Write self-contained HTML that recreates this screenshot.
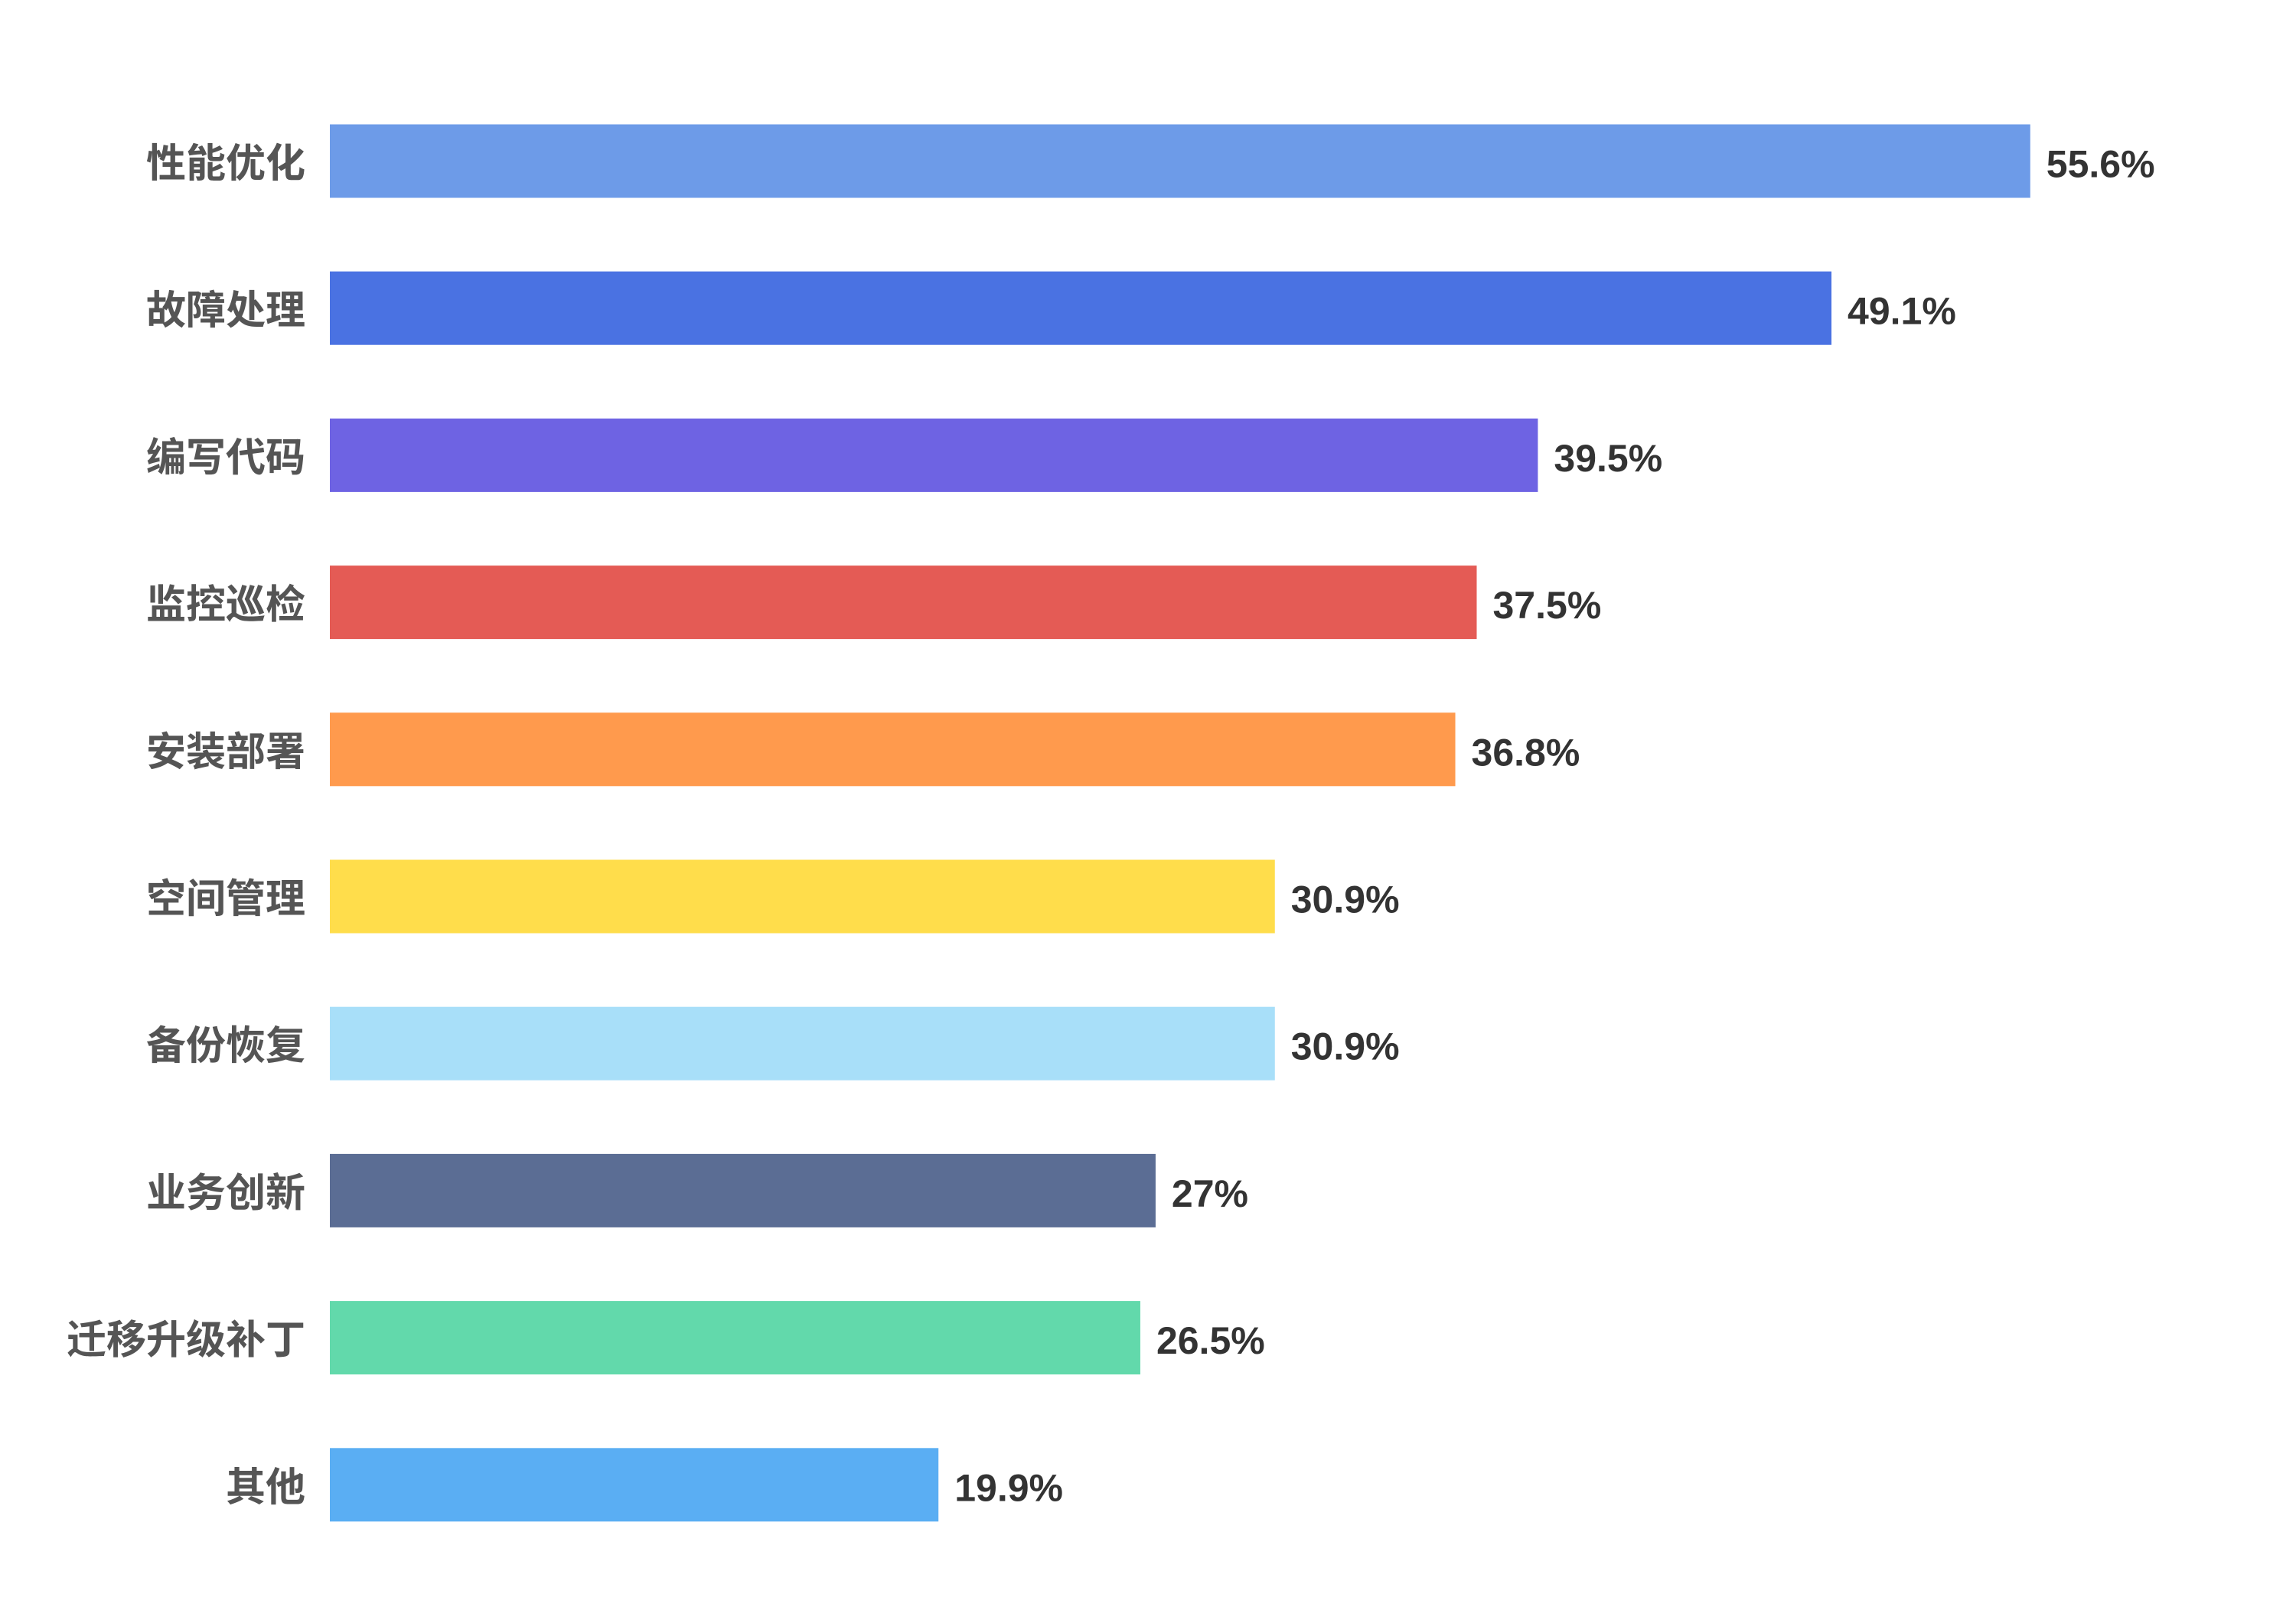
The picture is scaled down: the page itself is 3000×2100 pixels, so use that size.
<!DOCTYPE html>
<html><head><meta charset="utf-8"><style>
html,body{margin:0;padding:0;background:#fff;}
svg{display:block;}
</style></head><body>
<svg id="chart" width="3000" height="2100" xmlns="http://www.w3.org/2000/svg"></svg>
<script>
const categories=["性能优化","故障处理","编写代码","监控巡检","安装部署","空间管理","备份恢复","业务创新","迁移升级补丁","其他"];
const values=[55.6,49.1,39.5,37.5,36.8,30.9,30.9,27,26.5,19.9];
const valueLabels=["55.6%","49.1%","39.5%","37.5%","36.8%","30.9%","30.9%","27%","26.5%","19.9%"];
const colors=["#6d9be8","#4a72e2","#6e63e3","#e45b55","#ff9a4d","#ffdd4b","#a8dff9","#5b6d94","#62d9ab","#5aaef3"];
const svg=document.getElementById('chart');
const NS='http://www.w3.org/2000/svg';
const x0=431, pxPer=39.96, y0=162.5, step=192.2, bh=96;
const xScale=v=>x0+v*pxPer;
const yScale=i=>y0+i*step;
const font='"Liberation Sans","Noto Sans CJK SC",sans-serif';
categories.forEach((c,i)=>{
  const y=yScale(i);
  const r=document.createElementNS(NS,'rect');
  r.setAttribute('x',x0);r.setAttribute('y',y);
  r.setAttribute('width',xScale(values[i])-x0);r.setAttribute('height',bh);
  r.setAttribute('fill',colors[i]);
  
  
  svg.appendChild(r);
  const t=document.createElementNS(NS,'text');
  t.setAttribute('x',399);t.setAttribute('y',y+bh/2+4);
  t.setAttribute('text-anchor','end');t.setAttribute('dominant-baseline','central');
  t.setAttribute('font-family',font);t.setAttribute('font-size','52');t.setAttribute('font-weight','bold');
  t.setAttribute('fill','#555');
  t.textContent=c;
  
  
  svg.appendChild(t);
  const v=document.createElementNS(NS,'text');
  v.setAttribute('x',xScale(values[i])+21);v.setAttribute('y',y+bh/2+4);
  v.setAttribute('dominant-baseline','central');
  v.setAttribute('font-family',font);v.setAttribute('font-size','50');v.setAttribute('font-weight','bold');
  v.setAttribute('fill','#333');
  v.textContent=valueLabels[i];
  
  
  svg.appendChild(v);
});
</script>
</body></html>
